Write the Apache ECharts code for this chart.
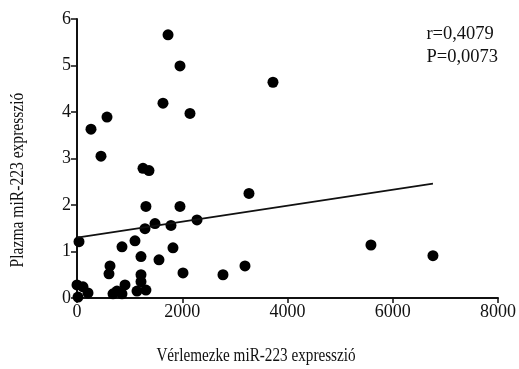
<!DOCTYPE html>
<html>
<head>
<meta charset="utf-8">
<script src="https://cdn.jsdelivr.net/npm/echarts@6/dist/echarts.min.js"></script>
<style>
  html, body { margin: 0; padding: 0; background: #fff; }
  #chart { width: 519px; height: 369px; }
</style>
</head>
<body>
<div id="chart"></div>
<script>
// vérlemezke (x) és plazma (y) miR-223 expresszió
const xValues = [1730, 1957, 1634, 2147, 570, 266, 456, 1254, 1368, 3724,
  1310, 1957, 3268, 1292, 1482, 1786, 2280, 38, 1102, 855, 1824, 1216, 1558,
  627, 608, 2014, 1216, 2774, 3192, 5586, 6764, 1216, 1310, 1140, 0, 114,
  209, 19, 912, 760, 684, 855];
const yValues = [5.66, 4.99, 4.19, 3.97, 3.89, 3.63, 3.05, 2.79, 2.74, 4.64,
  1.97, 1.97, 2.25, 1.49, 1.60, 1.56, 1.68, 1.21, 1.23, 1.10, 1.08, 0.89, 0.82,
  0.69, 0.52, 0.54, 0.50, 0.50, 0.69, 1.14, 0.91, 0.35, 0.17, 0.15, 0.28, 0.24,
  0.11, 0.02, 0.28, 0.15, 0.09, 0.09];
// regressziós egyenes végpontjai
const fitX = [0, 6764];
const fitY = [1.30, 2.46];
const xTicks = [0, 2000, 4000, 6000, 8000];
const yTicks = [0, 1, 2, 3, 4, 5, 6];

const chartDom = document.getElementById('chart');
const chart = echarts.init(chartDom);
const font = 'Liberation Serif';
const ink = '#111';

const option = {
  backgroundColor: '#fff',
  animation: false,
  grid: { left: 77, right: 21, top: 19, bottom: 71 },
  xAxis: {
    type: 'value',
    min: xTicks[0],
    max: xTicks[xTicks.length - 1],
    interval: 2000,
    axisLine: { lineStyle: { color: ink, width: 2 } },
    axisTick: { length: 5, lineStyle: { color: ink, width: 1.5 } },
    axisLabel: {
      fontFamily: font, fontSize: 18, color: ink, margin: 5,
      formatter: (v) => String(v)
    },
    splitLine: { show: false }
  },
  yAxis: {
    type: 'value',
    min: yTicks[0],
    max: yTicks[yTicks.length - 1],
    interval: 1,
    axisLine: { show: true, lineStyle: { color: ink, width: 2 } },
    axisTick: { show: true, length: 6, lineStyle: { color: ink, width: 1.5 } },
    axisLabel: { fontFamily: font, fontSize: 18, color: ink, margin: 6 },
    splitLine: { show: false }
  },
  graphic: [
    {
      type: 'text',
      right: 21,
      top: 23,
      style: {
        text: 'r=0,4079\nP=0,0073',
        fontFamily: font,
        fontSize: 18.5,
        lineHeight: 23,
        fill: ink
      }
    },
    // tengelyfeliratok, kissé keskenyítve mint az eredetin
    {
      type: 'text',
      x: 256,
      y: 356,
      scaleX: 0.8,
      style: {
        text: 'Vérlemezke miR-223 expresszió',
        fontFamily: font,
        fontSize: 19,
        fill: ink,
        align: 'center',
        verticalAlign: 'middle'
      }
    },
    {
      type: 'text',
      x: 18,
      y: 180,
      rotation: Math.PI / 2,
      scaleX: 0.82,
      style: {
        text: 'Plazma miR-223 expresszió',
        fontFamily: font,
        fontSize: 19,
        fill: ink,
        align: 'center',
        verticalAlign: 'middle'
      }
    }
  ],
  series: [
    {
      type: 'scatter',
      symbol: 'circle',
      symbolSize: 11,
      itemStyle: { color: '#000', opacity: 1 },
      data: xValues.map((x, i) => [x, yValues[i]])
    },
    {
      type: 'line',
      showSymbol: false,
      lineStyle: { color: ink, width: 1.8 },
      data: fitX.map((x, i) => [x, fitY[i]])
    }
  ]
};
option && chart.setOption(option);
window.addEventListener('resize', () => chart.resize());
</script>
</body>
</html>
